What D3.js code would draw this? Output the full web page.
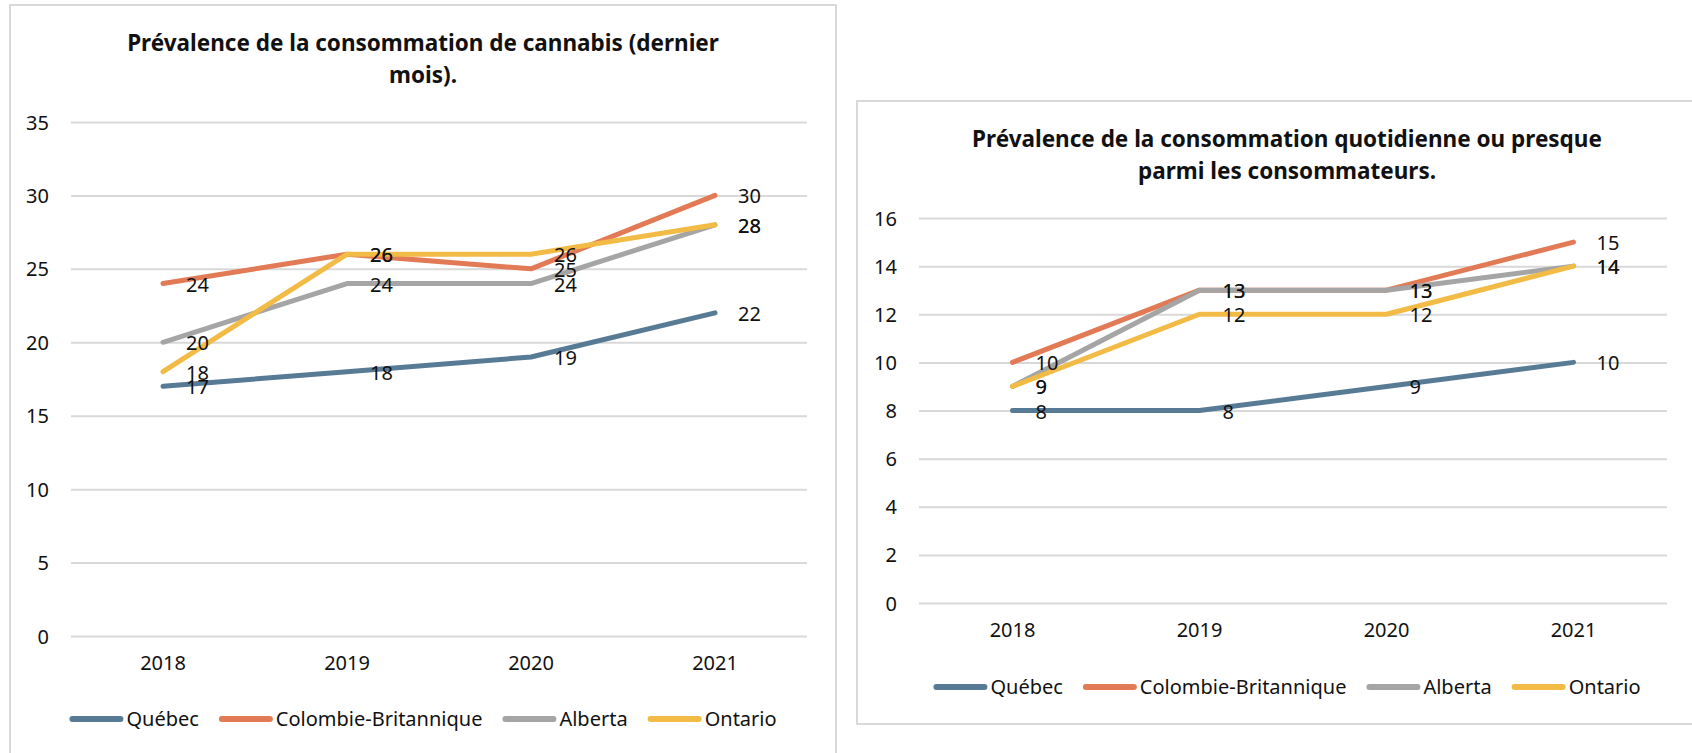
<!DOCTYPE html>
<meta charset="utf-8" />
<head>
  <script src="https://cdn.jsdelivr.net/npm/d3@7"></script>
  <style>
    body {
      margin: 0;
      background: #fff;
    }
    text {
      font-family: "Noto Sans", sans-serif;
      fill: #111;
    }
    .grid line {
      stroke: #d9d9d9;
      stroke-width: 2;
    }
  </style>
</head>
<body>
  <svg id="chart" width="1692" height="753"></svg>

<script>
  const years = ["2018", "2019", "2020", "2021"];
  const provinces = ["Québec", "Colombie-Britannique", "Alberta", "Ontario"];
  const colors = ["#587b95", "#e27a55", "#a5a5a5", "#f1bb45"];

  // prévalence dernier mois
  const moisQuebec = [17, 18, 19, 22];
  const moisCB = [24, 26, 25, 30];
  const moisAlberta = [20, 24, 24, 28];
  const moisOntario = [18, 26, 26, 28];
  const ticksMois = [0, 5, 10, 15, 20, 25, 30, 35];
  const titleMois = ["Prévalence de la consommation de cannabis (dernier", "mois)."];

  // quotidienne ou presque
  const quotQuebec = [8, 8, 9, 10];
  const quotCB = [10, 13, 13, 15];
  const quotAlberta = [9, 13, 13, 14];
  const quotOntario = [9, 12, 12, 14];
  const ticksQuot = [0, 2, 4, 6, 8, 10, 12, 14, 16];
  const titleQuot = ["Prévalence de la consommation quotidienne ou presque", "parmi les consommateurs."];

  const svg = d3.select("#chart");
  const fs = "20px";

  const drawChart = (o) => {
    const g = svg.append("g");

    g.append("rect")
      .attr("x", o.box[0])
      .attr("y", o.box[1])
      .attr("width", o.box[2])
      .attr("height", o.box[3])
      .attr("fill", "#fff")
      .attr("stroke", "#d9d9d9")
      .attr("stroke-width", 2);

    const cx = o.box[0] + o.box[2] / 2;

    g.append("g")
      .selectAll("text")
      .data(o.title)
      .enter()
      .append("text")
      .attr("x", cx)
      .attr("y", (d, i) => o.titleY + i * 32)
      .attr("text-anchor", "middle")
      .style("font-size", "22.5px")
      .style("font-weight", "bold")
      .text((d) => d);

    const x = d3.scaleBand().domain(years).range([o.left, o.right]);
    const y = d3
      .scaleLinear()
      .domain([0, d3.max(o.ticks)])
      .range([o.bottom, o.top]);

    const yAxis = g
      .append("g")
      .attr("class", "grid")
      .attr("transform", `translate(${o.left},0)`)
      .call(
        d3
          .axisLeft(y)
          .tickValues(o.ticks)
          .tickSize(-(o.right - o.left))
          .tickPadding(22)
      );
    yAxis.select(".domain").remove();
    yAxis.selectAll("text").style("font-size", fs).attr("dy", "0.35em");

    const xAxis = g
      .append("g")
      .attr("transform", `translate(0,${o.bottom})`)
      .call(d3.axisBottom(x).tickSize(0).tickPadding(20));
    xAxis.select(".domain").remove();
    xAxis.selectAll("text").style("font-size", fs);

    const line = d3
      .line()
      .x((d, i) => x(years[i]) + x.bandwidth() / 2)
      .y((d) => y(d));

    g.append("g")
      .selectAll("path")
      .data(o.series)
      .enter()
      .append("path")
      .attr("fill", "none")
      .attr("stroke", (d, i) => colors[i])
      .attr("stroke-width", 5)
      .attr("stroke-linecap", "round")
      .attr("stroke-linejoin", "round")
      .attr("d", (d) => line(d));

    // étiquettes de données
    const labels = g.append("g");
    o.series.forEach((s) => {
      labels
        .selectAll(null)
        .data(s)
        .enter()
        .append("text")
        .attr("x", (d, i) => x(years[i]) + x.bandwidth() / 2 + 23)
        .attr("y", (d) => y(d) + 1)
        .attr("dy", "0.35em")
        .style("font-size", fs)
        .text((d) => d);
    });

    // légende
    const legend = g.append("g");
    const items = legend
      .selectAll("g")
      .data(provinces)
      .enter()
      .append("g");
    items
      .append("line")
      .attr("x1", 3)
      .attr("x2", 51)
      .attr("stroke", (d, i) => colors[i])
      .attr("stroke-width", 6)
      .attr("stroke-linecap", "round");
    items
      .append("text")
      .attr("x", 57)
      .attr("dy", "0.35em")
      .style("font-size", fs)
      .text((d) => d);

    let pos = 0;
    items.each(function () {
      d3.select(this).attr("transform", `translate(${pos},0)`);
      pos += 57 + this.querySelector("text").getComputedTextLength() + 20;
    });
    pos -= 20;
    legend.attr("transform", `translate(${cx - pos / 2},${o.legendY})`);
  };

  drawChart({
    box: [10, 5, 826, 800],
    title: titleMois,
    titleY: 51,
    left: 71,
    right: 807,
    top: 122,
    bottom: 636,
    ticks: ticksMois,
    legendY: 719,
    series: [moisQuebec, moisCB, moisAlberta, moisOntario],
  });

  drawChart({
    box: [857, 101, 860, 623],
    title: titleQuot,
    titleY: 147,
    left: 919,
    right: 1667,
    top: 218,
    bottom: 603,
    ticks: ticksQuot,
    legendY: 687,
    series: [quotQuebec, quotCB, quotAlberta, quotOntario],
  });
</script>
</body>
